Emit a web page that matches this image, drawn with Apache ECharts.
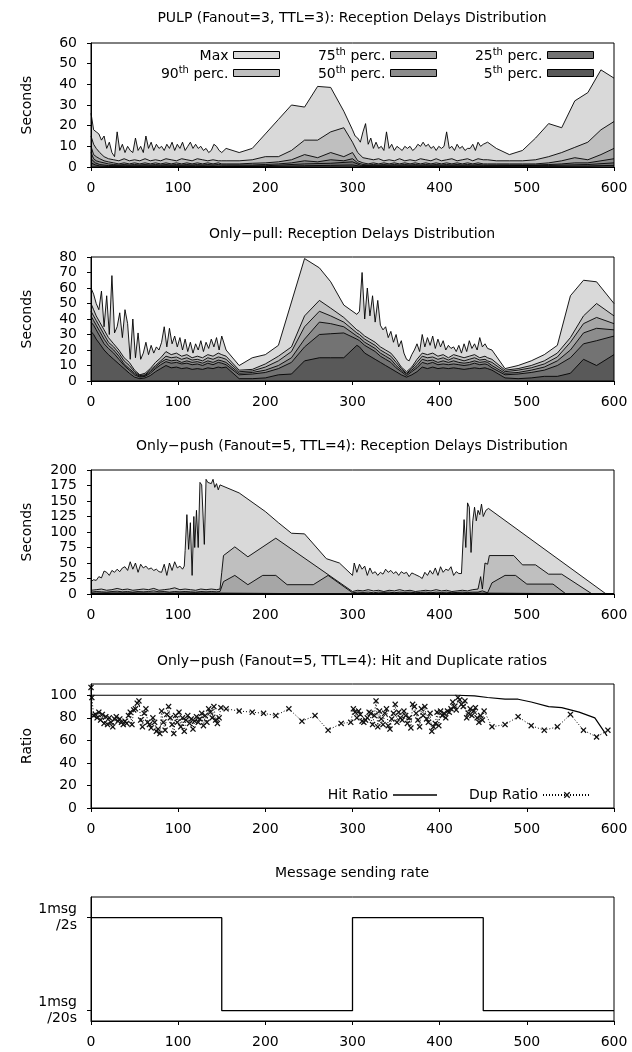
<!DOCTYPE html>
<html><head><meta charset="utf-8">
<script src="https://cdn.jsdelivr.net/npm/echarts@6/dist/echarts.min.js"></script>
<style>html,body{margin:0;padding:0;background:#fff}#c{width:632px;height:1052px}</style>
</head><body><div id="c"></div>
<script>
// ---------------- DATA ----------------
const seriesNames = ['Max','90th perc.','75th perc.','50th perc.','25th perc.','5th perc.'];
const panelTitles = [
  'PULP (Fanout=3, TTL=3): Reception Delays Distribution',
  'Only\u2212pull: Reception Delays Distribution',
  'Only\u2212push (Fanout=5, TTL=4): Reception Delays Distribution',
  'Only\u2212push (Fanout=5, TTL=4): Hit and Duplicate ratios',
  'Message sending rate'
];
const xTicks = [0,100,200,300,400,500,600];

// shared sample times (seconds)
const tA = [0,3,6,9,12,15,18,21,24,27,30,33,36,39,42,45,48,51,54,57,60,63,66,69,72,75,78,81,84,87,90,93,96,99,102,105,108,111,114,117,120,123,126,129,132,135,138,141,144,147,150];
const tB = [300,303,306,309,312,315,318,321,324,327,330,333,336,339,342,345,348,351,354,357,360,363,366,369,372,375,378,381,384,387,390,393,396,399,402,405,408,411,414,417,420,423,426,429,432,435,438,441,444,447,450];
const tC = [308,311,314,317,320,323,326,329,332,335,338,341,344,347,350,353,356,359,362,365,368,371,374,377,380,383,386,389,392,395,398,401,404,407,410,413,416,419,422,425,428,431,434,437,440,443,446,449,452,455];
const tE = [302,305,308,311,314,317,320,323,326,329,332,335,338,341,344,347,350,353,356,359,362,365,368,371,374,377,380,383,386,389,392,395,398,401,404,407,410,413,416,419,422,425];
const tPctA = [0,3,6,10,15,20,26,32,38,44,50,56,62,68,74,80,86,92,98,104,110,116,122,128,134,140,146,150];
const tPctB = [300,306,312,318,324,330,336,342,348,354,360,366,372,378,384,390,396,402,408,414,420,426,432,438,444,450];
const tPctC = [308,314,320,326,332,338,344,350,356,362,368,374,380,386,392,398,404,410,416,422,428,434,440,446,452,455];
const tSix1 = [0,6,12,18,24,30,36,42,48,54,60,66,72,78,84,90,96,102,108,114,120,126,132,138,144];

// ---- Panel 1: PULP ----
const p1MaxT = [].concat(tA, [155,170,185,200,215,230,245,260,275,290], tB, [455,465,480,495,510,525,540,555,570,585,600]);
const p1MaxV = [26,18,17,16,13,15,9,12,7,5,17,8,11,7,10,8,7,14,8,10,7,15,9,12,8,11,9,10,8,11,9,12,8,11,9,12,8,10,12,9,11,9,10,8,9,7,8,11,10,8,7,
  9,7,9,16,23,30,29,39,38.5,27,
  18,15,14,12,17,21,11,14,9,12,9,10,8,17,9,11,8,10,9,8,10,9,10,8,9,11,10,12,10,11,9,10,8,10,9,10,17,9,10,8,11,9,10,8,9,9,11,8,12,10,11,
  12,9,6,8,14,21,19,32,36,47,43];
const p1PctT = [].concat(tPctA, [155,170,185,200,215,230,245,260,275,290], tPctB, [455,465,480,495,510,525,540,555,570,585,600]);
const p1P90 = [15,11,9,7,5,4,3.5,3,4,3,3.5,3,4,3,3.5,3,4,3.5,3,4,3.5,3,4,3.5,3,3.5,3,3,
  3,3,3.5,5,5,8,13,13,17,19,
  12,7,4.5,4,3.5,4,3,3.5,3,4,3,3.5,3,4,3.5,3,4,3,3.5,4,3,3.5,4,3,4,3.5,
  3.5,3,3,3,3.5,5,7,9.5,12,18,22];
const p1P75 = [10,6,5,4,3,2.5,2,1.5,2,1.5,2,1.5,2,1.5,2,1.5,2,1.5,2,1.5,2,1.5,2,1.5,2,1.5,2,1.5,
  1.5,1.5,1.8,2,2.5,3.5,6,4.5,7,5,
  7,3,2,1.5,2,1.5,2,1.5,2,1.5,2,1.5,2,1.5,2,1.5,2,1.5,2,1.5,2,1.5,2,1.5,2,1.5,
  1.5,1.5,1.5,1.5,1.5,2,3,4.5,3.5,6,9];
const p1P50 = [7,4,3,2.5,2,1.5,1.2,1,1.2,1,1.2,1,1.2,1,1.2,1,1.2,1,1.2,1,1.2,1,1.2,1,1.2,1,1.2,1,
  1,1,1,1.2,1.5,2,3,2.5,3.5,3,
  4,2,1.2,1,1.2,1,1.2,1,1.2,1,1.2,1,1.2,1,1.2,1,1.2,1,1.2,1,1.2,1,1.2,1,1.2,1,
  1,1,1,1,1,1.2,1.5,2,2,3,4];
const p1LowT = [0,5,10,20,40,80,120,150,200,245,275,300,310,350,400,450,525,570,600];
const p1P25 = [4,2,1.2,0.7,0.6,0.6,0.6,0.5,0.6,1.5,1.8,2.5,0.7,0.6,0.6,0.6,0.8,1.2,2];
const p1P5  = [2,1,0.5,0.3,0.3,0.3,0.3,0.2,0.3,0.6,0.8,1,0.3,0.3,0.3,0.3,0.4,0.5,0.8];

// ---- Panel 2: Only-pull ----
const p2MaxT = [].concat(tA, [155,170,185,200,215,245,262,275,290,305], tC, [460,475,490,505,520,535,550,565,580,600]);
const p2MaxV = [60,56,50,46,58,35,55,30,68,31,35,44,28,46,37,14,40,15,31,14,18,25,17,23,18,22,20,25,35,22,34,24,29,22,28,20,27,19,25,18,24,20,26,19,25,21,27,22,28,20,29,
  20,10,15,17,23,79,73,64,49,43,
  45,70,40,60,42,55,38,52,36,33,35,28,32,25,30,22,26,18,14,13,17,20,24,19,30,22,28,23,29,21,27,22,26,20,23,21,22,19,23,18,24,19,26,21,24,20,28,22,24,21,
  20,8,10,13,17,23,55,65,64,50];
const p2PctT = [].concat(tPctA, [155,170,185,200,215,230,245,262,275,290,305], tPctC, [460,475,490,505,520,535,550,565,580,600]);
const p2P90 = [50,46,42,38,33,28,24,20,15,12,7,4,5,8,12,15,19,17,18,16,17,15,16,15,17,16,18,17,
  16,7,7.5,11,16,22,42,52,47,41,33,
  32,29,27,25,22,20,18,14,9,6,9,14,18,17,18,16,17,15,17,16,15,16,17,15,16,15,
  14,7,8,10,13,18,28,42,50,42];
const p2P75 = [45,42,39,35,30,25,22,18,13,10,6,3.5,4,7,10,13,16,15,15.5,14,15,13.5,14,13,15,14,15.5,15,
  14,6,6.5,9,13,19,35,45,42,38,31,
  30,27,25,23,20,18,16,12,8,5,8,12,16,15,15.5,14,15,13.5,15,14,13,14,15,13.5,14,13,
  12,6,7,8.5,11,15.5,25,37,41,37];
const p2P50 = [42,39,36,32,27,23,20,16,11,8,5,3,3.5,6,9,12,14,13,13.5,12,13,12,12.5,11.5,13,12,13.5,13,
  12,5,5.5,7,10,15,27,38,37,35,29,
  28,25,23,21,18,16,14,10,7,4.5,7,10,14,13,13.5,12,13,12,13,12,11.5,12,13,12,12.5,12,
  10,5,5.5,7,9,13,20,31,34,33];
const p2P25 = [38,36,33,29,24,21,18,14,10,7,4,2.5,3,5,8,10.5,12.5,11.5,12,11,11.5,10.5,11,10,11.5,10.5,12,11.5,
  10.5,4,4.5,5.5,8,12,22,30,30.5,31,27,
  26,23,21,19,16,14,12,8.5,6,3.5,6,8.5,12,11,12,10.5,11,10.5,11,10.5,10,10.5,11.5,10.5,11,10.5,
  8.5,4,4.5,5.5,7,10,15,24,26,29];
const p2P5 = [32,30,27,24,20,17,14,11,8,5,2.5,1.5,2,3.5,6,8,10,8.5,9,8,8.5,7.5,8,7.5,8.5,8,9,8.5,
  9,1.5,1.5,2,4,4.5,13,15,15,15,23,
  22,18,16,14,12,10,8,6,4,2.5,4,6,9,8,9,8,8.5,8,8.5,8,7.5,8,8.5,8,8.5,8,
  7,2,1.5,2,3,3,5,14,10,17];

// ---- Panel 3: Only-push delays ----
const p3MaxT = [].concat(tA.slice(0,36),
  [107,108,110,112,114,116,118,119,121,123,125,127,129,130,132,134,136,138,140,142,144,146,148],
  [150,170,200,215,230,245,270,285,300], tE,
  [427,428,430,432,434,436,438,440,442,444,446,448,450,453,456], [590,600]);
const p3MaxV = [20,23,22,28,26,37,35,30,38,35,40,36,42,44,38,52,40,50,35,48,42,45,40,42,38,40,36,35,48,30,50,38,52,42,45,40,
  45,70,128,72,115,30,125,75,135,75,180,176,175,80,185,180,183,178,185,172,178,168,176,
  175,163,133,115,98,97,57,50,30,
  50,35,48,40,45,30,42,33,36,30,35,32,40,35,38,33,36,30,36,33,35,28,34,32,30,28,25,35,30,38,32,42,30,44,35,40,38,44,30,36,33,33,
  33,120,75,147,140,67,118,140,118,135,128,145,125,135,138,
  1,0];
const p3P90T = [].concat(tSix1, [148,150,152,165,180,212], tPctB.slice(0,25),
  [447,449,452,455,457,485,495,510,525,540,575,600]);
const p3P90 = [6,7,8,6,7,9,7,8,6,7,8,7,9,6,7,8,10,7,8,7,6,8,7,8,7,
  8,35,62,76,60,90,
  4,6,5,7,5,6,4,6,5,7,5,6,4,5,6,5,7,5,6,4,5,6,5,7,8,
  28,8,50,48,62,62,47,47,32,32,0,0];
const p3P75T = [].concat(tSix1, [148,152,165,180,197,212,225,255,272,300], tPctB.slice(1,25),
  [449,455,460,475,487,500,530,545,600]);
const p3P75 = [3,4,3.5,3,4,4.5,3.5,4,3,4,3.5,4,5,3.5,4,3,4,3.5,4,3.5,3,4,3.5,4,3.5,
  4,20,30,15,30,30,15,15,30,2,
  3,2.5,3,2,3,2.5,3,2,3,2.5,3,2,2.5,3,2,3,2.5,3,2,2.5,3,2.5,3,3,
  5,2,18,30,30,16,16,0,0];
const p3LowT = [0,40,80,120,148,150,298,300,350,400,448,450,600];
const p3P50 = [1.5,1.8,1.5,1.8,1.5,0,0,1.2,1.5,1.2,1.5,0,0];
const p3P25 = [0.8,1,0.8,1,0.8,0,0,0.6,0.8,0.6,0.8,0,0];
const p3P5  = [0.3,0.4,0.3,0.4,0.3,0,0,0.2,0.3,0.2,0.3,0,0];

// ---- Panel 4: Hit & Dup ratios ----
const hitT = [0,420,440,455,475,490,505,525,540,560,578,592];
const hitV = [100,100,99.5,98,96.5,96.5,94,90,89,85,80,64];
const dupT1 = [0,1,3,5,7,9,11,13,15,17,19,21,23,25,27,29,31,33,35,37,39,41,43,45,47,49,51,53,55,57,59,61,63,65,67,69,71,73,75,77,79,81,83,85,87,89,91,93,95,97,99,101,103,105,107,109,111,113,115,117,119,121,123,125,127,129,131,133,135,137,139,141,143,145,147,149];
const dupV1 = [107,98,82,83,80,85,78,83,75,81,74,80,76,72,79,81,77,79,76,74,77,75,82,85,74,87,88,93,95,78,72,84,88,76,74,71,80,76,68,70,66,86,76,69,83,90,80,74,66,82,76,85,72,80,68,78,82,75,79,70,77,81,76,79,84,73,82,76,88,85,80,90,78,75,80,89];
const dupTs1 = [155,170,185,198,212,227,242,257,272,287,298];
const dupVs1 = [88,86,85,84,82,88,77,82,69,75,76];
const dupT2 = [301,303,305,307,309,311,313,315,317,319,321,323,325,327,329,331,333,335,337,339,341,343,345,347,349,351,353,355,357,359,361,363,365,367,369,371,373,375,377,379,381,383,385,387,389,391,393,395,397,399,401,403,405,407,409,411,413,415,417,419,421,423,425,427,429,431,433,435,437,439,441,443,445,447,449,451];
const dupV2 = [88,85,80,86,83,77,76,78,80,85,84,74,82,95,72,86,79,74,84,88,73,70,79,84,92,76,85,80,78,86,82,75,80,71,92,90,84,78,72,88,82,90,79,76,84,68,72,75,85,73,86,82,84,80,86,85,88,94,90,87,98,96,92,90,95,80,84,88,82,86,89,80,76,82,78,86];
const dupTs2 = [460,475,490,505,520,535,550,565,580,593];
const dupVs2 = [72,74,81,73,69,72,83,69,63,69];
const ratioTicks = [0,20,40,60,80,100];

// ---- Panel 5: sending rate (msg/s) ----
const rateT = [0,150,300,450,600];
const rateV = [0.5,0.05,0.5,0.05,0.05];
const rateTickValues = [0.05,0.5];
const rateTickLabels = ['1msg\n/20s','1msg\n/2s'];

// ---------------- STYLE / BUILD ----------------
const FONT = 'DejaVu Sans';
const FILLS = ['#d9d9d9','#bfbfbf','#a6a6a6','#8c8c8c','#737373','#595959'];
const TOPS = [43,257,470,684,897];
const zip = (t,v) => t.map((x,i)=>[x,v[i]]);

const grid = TOPS.map(t => ({left:91, right:18, top:t, height:124, show:true, borderColor:'#000', borderWidth:1, backgroundColor:'transparent', z:100}));
const txt = {color:'#000', fontFamily:FONT, fontSize:14};
const xAxis = TOPS.map((t,i) => ({type:'value', gridIndex:i, min:0, max:600, interval:100, z:60,
  axisLine:{show:true, onZero:false, lineStyle:{color:'#000', width:1}},
  axisTick:{show:true, inside:false, length:4, lineStyle:{color:'#000'}},
  axisLabel:Object.assign({margin:14, customValues:xTicks}, txt), splitLine:{show:false}}));
const yCfg = [
  {max:60, interval:10, name:'Seconds'},
  {max:80, interval:10, name:'Seconds'},
  {max:200, interval:25, name:'Seconds'},
  {max:110, interval:20, name:'Ratio', custom:ratioTicks},
  {max:0.6, interval:0.05, name:'', custom:rateTickValues}
];
const yAxis = yCfg.map((c,i) => {
  const a = {type:'value', gridIndex:i, min:0, max:c.max, interval:c.interval, z:60,
    name:c.name, nameLocation:'middle', nameGap:57, nameTextStyle:Object.assign({}, txt),
    axisLine:{show:true, onZero:false, lineStyle:{color:'#000', width:1}},
    axisTick:{show:true, inside:false, length:4, lineStyle:{color:'#000'}},
    axisLabel:Object.assign({margin:14}, txt), splitLine:{show:false}};
  if (c.custom) { a.axisLabel.customValues = c.custom; a.axisTick.customValues = c.custom; }
  if (i === 4) {
    a.axisLabel.formatter = v => { const k = rateTickValues.findIndex(r => Math.abs(r - v) < 1e-9); return k >= 0 ? rateTickLabels[k] : ''; };
    a.axisLabel.lineHeight = 16;
  }
  return a;
});

function area(k, idx, t, v) {
  return {type:'line', name:seriesNames[k], xAxisIndex:idx, yAxisIndex:idx, data:zip(t,v),
    symbol:'none', showSymbol:false, silent:true, z:2+k,
    lineStyle:{color:'#000', width:0.9}, itemStyle:{color:FILLS[k]},
    areaStyle:{color:FILLS[k], opacity:1}};
}
const series = [
  area(0,0,p1MaxT,p1MaxV), area(1,0,p1PctT,p1P90), area(2,0,p1PctT,p1P75), area(3,0,p1PctT,p1P50), area(4,0,p1LowT,p1P25), area(5,0,p1LowT,p1P5),
  area(0,1,p2MaxT,p2MaxV), area(1,1,p2PctT,p2P90), area(2,1,p2PctT,p2P75), area(3,1,p2PctT,p2P50), area(4,1,p2PctT,p2P25), area(5,1,p2PctT,p2P5),
  area(0,2,p3MaxT,p3MaxV), area(1,2,p3P90T,p3P90), area(2,2,p3P75T,p3P75), area(3,2,p3LowT,p3P50), area(4,2,p3LowT,p3P25), area(5,2,p3LowT,p3P5),
  {type:'line', name:'Hit Ratio', xAxisIndex:3, yAxisIndex:3, data:zip(hitT,hitV), symbol:'none', showSymbol:false,
    lineStyle:{color:'#000', width:1.2}, itemStyle:{color:'#000'}, z:5},
  {type:'line', name:'Dup Ratio', xAxisIndex:3, yAxisIndex:3,
    data:[].concat(zip(dupT1,dupV1), zip(dupTs1,dupVs1), zip(dupT2,dupV2), zip(dupTs2,dupVs2)),
    symbol:'path://M0,1.5L1.5,0L5,3.5L8.5,0L10,1.5L6.5,5L10,8.5L8.5,10L5,6.5L1.5,10L0,8.5L3.5,5Z', symbolSize:6, showSymbol:true,
    lineStyle:{color:'#000', width:1, type:[1,2]}, itemStyle:{color:'#111'}, z:6},
  {type:'line', name:'rate', xAxisIndex:4, yAxisIndex:4, data:zip(rateT,rateV), step:'end', symbol:'none', showSymbol:false,
    lineStyle:{color:'#000', width:1.3}, z:5}
];

const rich = {
  n:{fontFamily:FONT, fontSize:14, color:'#000', verticalAlign:'bottom', lineHeight:16},
  s:{fontFamily:FONT, fontSize:10, color:'#000', verticalAlign:'top', lineHeight:10, padding:[0,0,8,0]}
};
const fmt = name => { const m = name.match(/^(\d+)th (.*)$/); return m ? '{n|'+m[1]+'}{s|th}{n| '+m[2]+'}' : '{n|'+name+'}'; };
const legPos = [[352,49],[352,65],[195,47],[195,65],[38,47],[38,65]];
const legend = seriesNames.map((nm,k) => ({data:[nm], right:legPos[k][0], top:legPos[k][1], padding:0,
  icon:'rect', itemWidth:46, itemHeight:7, align:'right', selectedMode:false,
  itemStyle:{borderColor:'#000', borderWidth:1},
  formatter:fmt, textStyle:{fontFamily:FONT, fontSize:14, color:'#000', rich:rich}}));
legend.push({data:['Hit Ratio'], right:195, top:788, padding:0, icon:'rect', itemWidth:44, itemHeight:1.3, align:'right', selectedMode:false,
  itemStyle:{color:'#000'}, textStyle:Object.assign({}, txt)});
legend.push({data:['Dup Ratio'], right:40, top:788, padding:0, itemWidth:48, itemHeight:8, align:'right', selectedMode:false,
  textStyle:Object.assign({}, txt)});

const titleTops = [11,227,439,654,866];
const title = panelTitles.map((t,i) => ({text:t, left:352, top:titleTops[i], textAlign:'center', padding:0,
  textStyle:{fontFamily:FONT, fontSize:14, fontWeight:'normal', color:'#000'}}));

const chart = echarts.init(document.getElementById('c'), null, {renderer:'canvas'});
chart.setOption({animation:false, backgroundColor:'#fff', title, legend, grid, xAxis, yAxis, series, tooltip:{show:false}});
</script>
</body></html>
